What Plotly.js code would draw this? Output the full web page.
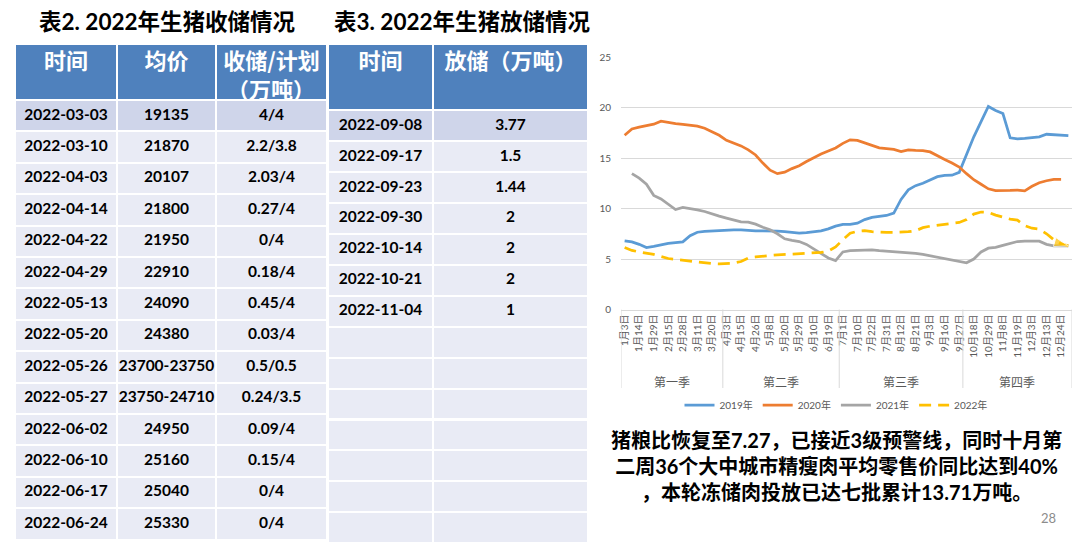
<!DOCTYPE html>
<html><head><meta charset="utf-8">
<script src="https://cdn.plot.ly/plotly-3.0.1.min.js"></script>
<style>html,body{margin:0;padding:0;background:#fff}</style>
</head><body><div id="chart" style="width:1088px;height:544px"></div>
<script>
// ---------- Table 2 data ----------
const storeDates = ['2022-03-03','2022-03-10','2022-04-03','2022-04-14','2022-04-22','2022-04-29','2022-05-13','2022-05-20','2022-05-26','2022-05-27','2022-06-02','2022-06-10','2022-06-17','2022-06-24'];
const storePrices = ['19135','21870','20107','21800','21950','22910','24090','24380','23700-23750','23750-24710','24950','25160','25040','25330'];
const storeAmounts = ['4/4','2.2/3.8','2.03/4','0.27/4','0/4','0.18/4','0.45/4','0.03/4','0.5/0.5','0.24/3.5','0.09/4','0.15/4','0/4','0/4'];
const storeHeaders = ['时间','均价','收储/计划'];
const storeUnitLine = '（万吨）';
// ---------- Table 3 data ----------
const releaseDates = ['2022-09-08','2022-09-17','2022-09-23','2022-09-30','2022-10-14','2022-10-21','2022-11-04','','','','','','',''];
const releaseAmounts = ['3.77','1.5','1.44','2','2','2','1','','','','','','',''];
const releaseHeaders = ['时间','放储（万吨）'];
// ---------- Line chart data ----------
const dateLabels = ['1月3日','1月14日','1月29日','2月15日','2月28日','3月11日','3月20日',
  '4月3日','4月15日','4月26日','5月8日','5月20日','5月29日','6月10日','6月19日',
  '7月1日','7月10日','7月22日','7月31日','8月12日','8月21日','9月3日','9月16日','9月27日',
  '10月18日','10月29日','11月8日','11月19日','12月3日','12月13日','12月24日'];
const quarterNames = ['第一季','第二季','第三季','第四季'];
const quarterCounts = [14,16,17,15];
const y2019 = [6.8,6.7,6.45,6.14,6.25,6.4,6.55,6.62,6.7,7.3,7.65,7.73,7.78,7.82,7.86,7.89,7.88,7.82,7.79,7.79,
  7.79,7.76,7.7,7.62,7.56,7.62,7.72,7.79,7.98,8.25,8.42,8.42,8.55,8.9,9.12,9.25,9.31,9.55,10.9,11.85,
  12.26,12.5,12.8,13.15,13.27,13.3,13.58,15.3,17.1,18.6,20.1,19.7,19.4,17.0,16.9,16.95,17.0,17.1,17.35,17.32,
  17.28,17.22];
const y2020 = [17.25,17.88,18.05,18.2,18.35,18.65,18.5,18.4,18.32,18.25,18.15,17.95,17.6,17.25,16.75,16.5,16.2,15.8,15.3,14.5,
  13.8,13.45,13.6,13.95,14.24,14.65,15.05,15.4,15.7,16.0,16.45,16.8,16.75,16.5,16.28,16.0,15.93,15.85,15.63,15.8,
  15.75,15.73,15.6,15.2,14.85,14.5,14.1,13.45,12.85,12.4,11.95,11.78,11.76,11.8,11.83,11.75,12.2,12.55,12.75,12.88,
  12.88,null];
const y2021 = [null,13.45,13.0,12.4,11.3,10.95,10.4,9.9,10.1,10.0,9.87,9.7,9.45,9.25,9.05,8.85,8.68,8.65,8.45,8.15,
  7.9,7.5,7.0,6.85,6.73,6.45,6.0,5.6,5.1,4.85,5.7,5.82,5.87,5.9,5.9,5.82,5.77,5.75,5.7,5.62,
  5.55,5.45,5.31,5.2,5.05,4.9,4.75,4.63,5.0,5.7,6.07,6.15,6.35,6.55,6.73,6.77,6.77,6.77,6.45,6.3,
  6.3,6.3];
const y2022 = [6.14,5.85,5.7,5.58,5.45,5.25,5.05,4.95,4.9,4.8,4.7,4.6,4.55,4.52,4.55,4.6,4.75,5.1,5.2,5.3,
  5.35,5.4,5.45,5.5,5.54,5.56,5.58,5.65,5.78,6.2,6.9,7.55,7.75,7.8,7.7,7.65,7.63,7.63,7.64,7.7,
  7.8,8.1,8.25,8.35,8.45,8.55,8.62,8.9,9.45,9.65,9.62,9.35,9.15,8.95,8.85,8.3,8.05,7.95,7.5,6.9,
  6.5,6.3];
const seriesNames = ['2019年','2020年','2021年','2022年'];
const seriesColors = ['#5B9BD5','#ED7D31','#A5A5A5','#FFC000'];

const W = 1088, H = 544;
const px = v => v / W, py = v => 1 - v / H;
const FONT = 'Lato, "Noto Sans CJK SC", sans-serif';
const CJK = '"Noto Sans CJK SC", Lato, sans-serif';

const n = y2019.length;
const idx = Array.from({length: n}, (_, i) => i);
const tickvals = dateLabels.map((_, k) => 2 * k);

const traces = [];
const headFont = {family: CJK, size: 22, color: '#ffffff', weight: 'bold'};
const cellFont = {family: FONT, size: 15.5, color: '#000000', weight: 'bold'};

// Table 2
const rowFill2 = storeDates.map((_, i) => i === 0 ? '#CFD5EA' : '#E9EBF5');
traces.push({
  type: 'table',
  domain: {x: [px(15), px(327)], y: [0, py(44)]},
  columnwidth: [102, 99, 111],
  header: {
    values: storeHeaders,
    fill: {color: '#4F81BD'}, line: {color: '#ffffff', width: 2},
    font: headFont, align: 'center', height: 56
  },
  cells: {
    values: [storeDates, storePrices, storeAmounts],
    fill: {color: [rowFill2, rowFill2, rowFill2]}, line: {color: '#ffffff', width: 2},
    font: cellFont, align: 'center', height: 31.4
  }
});
// Table 3
const rowFill3 = releaseDates.map((_, i) => i === 0 ? '#CFD5EA' : '#E9EBF5');
traces.push({
  type: 'table',
  domain: {x: [px(328), px(588)], y: [0, py(44)]},
  columnwidth: [105, 155],
  header: {
    values: releaseHeaders,
    fill: {color: '#4F81BD'}, line: {color: '#ffffff', width: 2},
    font: headFont, align: 'center', height: 66
  },
  cells: {
    values: [releaseDates, releaseAmounts],
    fill: {color: [rowFill3, rowFill3]}, line: {color: '#ffffff', width: 2},
    font: cellFont, align: 'center', height: 30.95
  }
});

// Lines
[y2019, y2020, y2021, y2022].forEach((ys, k) => {
  traces.push({
    type: 'scatter', mode: 'lines', x: idx, y: ys, name: seriesNames[k],
    line: {color: seriesColors[k], width: 2.75, dash: k === 3 ? '12px,7px' : 'solid'},
    connectgaps: false, hoverinfo: 'skip'
  });
});
// arrow head at end of 2022 series
traces.push({
  type: 'scatter', mode: 'markers', x: idx.slice(n - 2), y: y2022.slice(n - 2),
  marker: {symbol: 'arrow', angleref: 'previous', size: [0, 15], color: '#FFC000'},
  showlegend: false, hoverinfo: 'skip'
});

// quarter separators and labels
const shapes = [], annotations = [];
let start = -0.5;
const bounds = [start];
quarterCounts.forEach((c, q) => {
  annotations.push({xref: 'x', yref: 'paper', x: start + c / 2, y: py(381), text: quarterNames[q],
    showarrow: false, font: {family: CJK, size: 12, color: '#595959'}, xanchor: 'center', yanchor: 'middle'});
  start += c; bounds.push(start);
});
bounds.forEach(b => shapes.push({type: 'line', xref: 'x', yref: 'paper', x0: b, x1: b, y0: py(309.5), y1: py(388),
  line: {color: '#D9D9D9', width: 1}}));

// second header line of table 2
annotations.push({xref: 'paper', yref: 'paper', x: px(271), y: py(88), text: storeUnitLine, showarrow: false,
  font: headFont, xanchor: 'center', yanchor: 'middle'});
// titles
annotations.push({xref: 'paper', yref: 'paper', x: px(167), y: py(22), text: '<b>表2. 2022年生猪收储情况</b>', showarrow: false,
  font: {family: FONT, size: 22.5, color: '#000'}, xanchor: 'center', yanchor: 'middle'});
annotations.push({xref: 'paper', yref: 'paper', x: px(462), y: py(22), text: '<b>表3. 2022年生猪放储情况</b>', showarrow: false,
  font: {family: FONT, size: 22.5, color: '#000'}, xanchor: 'center', yanchor: 'middle'});
// commentary
annotations.push({xref: 'paper', yref: 'paper', x: px(836), y: py(466),
  text: '<b>猪粮比恢复至7.27，已接近3级预警线，同时十月第<br>二周36个大中城市精瘦肉平均零售价同比达到40%<br>，本轮冻储肉投放已达七批累计13.71万吨。</b>',
  showarrow: false, align: 'center', font: {family: FONT, size: 20, color: '#000'}, xanchor: 'center', yanchor: 'middle'});
annotations.push({xref: 'paper', yref: 'paper', x: px(1048), y: py(518), text: '28', showarrow: false,
  font: {family: FONT, size: 13, color: '#8C8C8C'}, xanchor: 'center', yanchor: 'middle'});

const layout = {
  width: W, height: H, autosize: false,
  margin: {l: 0, r: 0, t: 0, b: 0},
  paper_bgcolor: '#ffffff', plot_bgcolor: '#ffffff',
  font: {family: FONT},
  showlegend: true,
  legend: {orientation: 'h', x: px(836), xanchor: 'center', y: py(405), yanchor: 'middle',
    font: {family: FONT, size: 10, color: '#595959'}, bgcolor: 'rgba(0,0,0,0)'},
  xaxis: {domain: [px(621), px(1072)], range: [-0.5, n - 0.5], tickmode: 'array', tickvals: tickvals, ticktext: dateLabels,
    tickangle: -90, tickfont: {family: FONT, size: 10, color: '#595959'}, showgrid: false, zeroline: false,
    showline: true, linecolor: '#D9D9D9', linewidth: 1, ticks: '', fixedrange: true},
  yaxis: {domain: [py(309.5), py(57)], range: [0, 25], dtick: 5, tick0: 0, gridcolor: '#D9D9D9', gridwidth: 1,
    zeroline: false, showline: false, tickfont: {family: FONT, size: 10, color: '#595959'}, ticklabelstandoff: 9, fixedrange: true},
  shapes: shapes, annotations: annotations
};
Plotly.newPlot('chart', traces, layout, {displayModeBar: false, staticPlot: true});
</script></body></html>
